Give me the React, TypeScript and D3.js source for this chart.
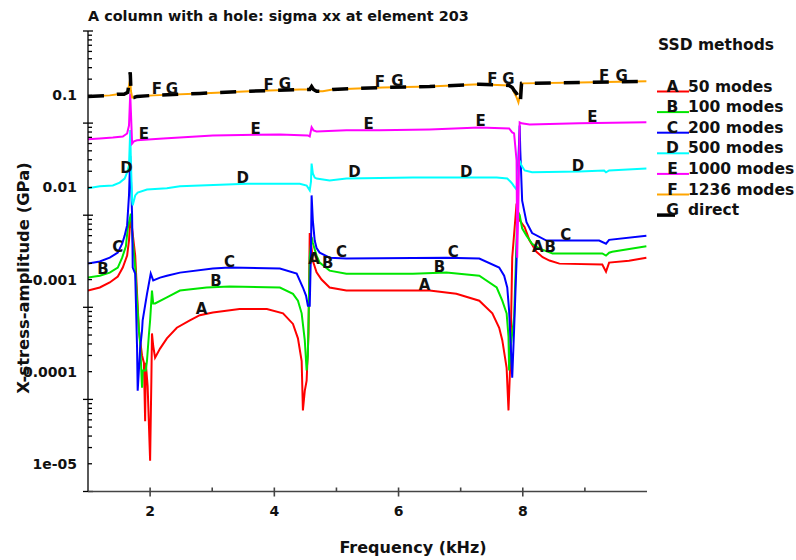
import React from 'react';
import * as d3 from 'd3';

type Pt = [number, number];

// frequency (kHz), X-stress amplitude (GPa)
const modes50: Pt[] = [
  [1.0, 7.6e-4], [1.19, 8.2e-4], [1.35, 9.3e-4], [1.48, 1.08e-3], [1.56, 1.35e-3], [1.63, 1.82e-3],
  [1.66, 2.65e-3], [1.68, 4.4e-3], [1.71, 3.6e-3], [1.76, 1.82e-3], [1.79, 7.0e-4], [1.82, 2.8e-4],
  [1.87, 1.5e-4], [1.9, 1.25e-4], [1.92, 2.9e-5], [1.93, 1.25e-4], [1.96, 7.0e-5], [2.0, 1.08e-5],
  [2.02, 8.0e-5], [2.03, 2.6e-4], [2.05, 1.9e-4], [2.08, 1.42e-4], [2.16, 1.78e-4], [2.27, 2.3e-4],
  [2.43, 3.0e-4], [2.64, 3.6e-4], [2.8, 4.1e-4], [3.01, 4.4e-4], [3.44, 4.8e-4], [3.88, 4.8e-4],
  [4.14, 4.3e-4], [4.3, 3.3e-4], [4.38, 2.3e-4], [4.44, 1.3e-4], [4.46, 3.8e-5], [4.49, 6.2e-5],
  [4.52, 8.0e-5], [4.55, 2.6e-4], [4.57, 3.2e-3], [4.6, 2.2e-3], [4.62, 1.6e-3], [4.68, 1.2e-3],
  [4.76, 1.0e-3], [4.89, 8.2e-4], [5.16, 7.6e-4], [6.5, 7.6e-4], [6.93, 7.0e-4], [7.3, 5.9e-4],
  [7.51, 4.3e-4], [7.62, 3.0e-4], [7.67, 2.2e-4], [7.74, 1.1e-4], [7.77, 3.8e-5], [7.8, 1.3e-4],
  [7.83, 1.73e-3], [7.9, 6.7e-3], [7.95, 4.4e-3], [8.03, 3.7e-3], [8.11, 2.65e-3], [8.22, 2.0e-3],
  [8.32, 1.75e-3], [8.43, 1.61e-3], [8.59, 1.49e-3], [9.28, 1.46e-3], [9.34, 1.22e-3], [9.39, 1.53e-3],
  [9.71, 1.6e-3], [9.99, 1.73e-3],
];

const modes100: Pt[] = [
  [1.0, 1.05e-3], [1.19, 1.1e-3], [1.35, 1.19e-3], [1.48, 1.35e-3], [1.55, 1.73e-3], [1.61, 2.3e-3],
  [1.64, 3.6e-3], [1.69, 5.2e-3], [1.72, 2.65e-3], [1.76, 1.35e-3], [1.79, 5.9e-4], [1.82, 2.8e-4],
  [1.84, 2.0e-4], [1.87, 6.7e-5], [1.88, 1.03e-4], [1.93, 1.03e-4], [1.95, 1.32e-4], [1.98, 2.5e-4],
  [2.0, 3.6e-4], [2.03, 7.6e-4], [2.05, 5.5e-4], [2.08, 5.5e-4], [2.27, 6.4e-4], [2.48, 7.6e-4],
  [2.91, 8.2e-4], [3.28, 8.4e-4], [4.09, 8.2e-4], [4.3, 7.0e-4], [4.38, 5.9e-4], [4.44, 4.3e-4],
  [4.49, 2.2e-4], [4.52, 1.03e-4], [4.54, 1.5e-4], [4.57, 1.73e-3], [4.6, 2.9e-3], [4.62, 2.5e-3],
  [4.68, 1.82e-3], [4.73, 1.53e-3], [4.89, 1.25e-3], [5.16, 1.16e-3], [6.23, 1.16e-3], [6.77, 1.19e-3],
  [7.3, 1.1e-3], [7.58, 8.2e-4], [7.67, 5.9e-4], [7.74, 4.3e-4], [7.77, 2.4e-4], [7.78, 1.03e-4],
  [7.81, 2.0e-4], [7.86, 3.9e-4], [7.9, 2.65e-3], [7.91, 5.6e-3], [7.95, 5.0e-3], [7.99, 3.6e-3],
  [8.06, 3.0e-3], [8.15, 2.45e-3], [8.27, 2.17e-3], [8.48, 1.92e-3], [9.28, 1.92e-3], [9.34, 1.82e-3],
  [9.39, 1.96e-3], [9.44, 2.0e-3], [9.99, 2.3e-3],
];

const modes200: Pt[] = [
  [1.0, 1.49e-3], [1.19, 1.57e-3], [1.35, 1.73e-3], [1.48, 1.96e-3], [1.55, 2.45e-3], [1.59, 3.0e-3],
  [1.63, 3.9e-3], [1.66, 8.2e-3], [1.68, 2.2e-2], [1.71, 5.0e-3], [1.72, 1.35e-3], [1.76, 1.16e-3],
  [1.79, 1.8e-4], [1.8, 6.2e-5], [1.84, 1.8e-4], [1.87, 2.8e-4], [1.88, 3.6e-4], [1.95, 7.0e-4],
  [2.01, 1.16e-3], [2.05, 9.8e-4], [2.16, 1.05e-3], [2.27, 1.1e-3], [2.48, 1.19e-3], [3.01, 1.32e-3],
  [3.28, 1.35e-3], [4.09, 1.32e-3], [4.36, 1.16e-3], [4.46, 8.2e-4], [4.51, 6.7e-4], [4.54, 5.2e-4],
  [4.57, 5.2e-4], [4.59, 2.1e-3], [4.6, 8.2e-3], [4.62, 4.4e-3], [4.65, 2.65e-3], [4.68, 2.2e-3],
  [4.73, 1.96e-3], [4.89, 1.73e-3], [5.16, 1.69e-3], [6.77, 1.73e-3], [7.3, 1.69e-3], [7.62, 1.35e-3],
  [7.7, 1.1e-3], [7.75, 8.2e-4], [7.78, 4.6e-4], [7.81, 1.7e-4], [7.83, 8.6e-5], [7.86, 2.8e-4],
  [7.9, 1.61e-3], [7.93, 2.0e-2], [7.95, 4.7e-2], [7.96, 2.5e-2], [7.99, 7.2e-3], [8.06, 4.2e-3],
  [8.15, 3.2e-3], [8.38, 2.65e-3], [9.23, 2.65e-3], [9.34, 2.45e-3], [9.39, 2.7e-3], [9.99, 3.0e-3],
];

const modes500: Pt[] = [
  [1.0, 9.8e-3], [1.19, 1.03e-2], [1.4, 1.05e-2], [1.51, 1.13e-2], [1.59, 1.25e-2], [1.63, 1.46e-2],
  [1.66, 1.73e-2], [1.68, 4.2e-2], [1.69, 2.0e-2], [1.71, 7.2e-3], [1.72, 6.4e-3], [1.76, 8.2e-3],
  [1.8, 8.8e-3], [1.95, 9.5e-3], [2.27, 9.8e-3], [2.48, 1.03e-2], [3.56, 1.1e-2], [4.41, 1.1e-2],
  [4.52, 1.05e-2], [4.57, 9.3e-3], [4.59, 1.16e-2], [4.6, 1.82e-2], [4.62, 1.42e-2], [4.65, 1.28e-2],
  [4.68, 1.25e-2], [4.89, 1.19e-2], [5.16, 1.25e-2], [6.23, 1.28e-2], [7.58, 1.28e-2], [7.75, 1.25e-2],
  [7.8, 1.16e-2], [7.83, 1.1e-2], [7.86, 1.03e-2], [7.9, 9.5e-3], [7.91, 1.25e-2], [7.95, 1.96e-2],
  [7.98, 1.73e-2], [8.03, 1.53e-2], [8.15, 1.46e-2], [8.91, 1.49e-2], [9.31, 1.53e-2], [9.34, 1.46e-2],
  [9.39, 1.53e-2], [9.99, 1.61e-2],
];

const modes1000: Pt[] = [
  [1.0, 3.33e-2], [1.19, 3.41e-2], [1.4, 3.49e-2], [1.56, 3.58e-2], [1.63, 3.86e-2], [1.66, 4.7e-2],
  [1.68, 0.105], [1.69, 6.9e-2], [1.71, 3.0e-2], [1.74, 3.17e-2], [1.79, 3.25e-2], [2.21, 3.41e-2],
  [3.01, 3.67e-2], [4.09, 3.77e-2], [4.54, 3.67e-2], [4.57, 3.58e-2], [4.6, 4.5e-2], [4.63, 4.17e-2],
  [4.68, 4.06e-2], [5.16, 4.17e-2], [5.69, 4.17e-2], [6.5, 4.27e-2], [7.3, 4.49e-2], [7.78, 4.38e-2],
  [7.83, 3.96e-2], [7.86, 3.86e-2], [7.9, 1.97e-2], [7.91, 1.73e-3], [7.93, 7.2e-3], [7.95, 5.1e-2],
  [7.98, 4.97e-2], [8.11, 4.84e-2], [8.91, 4.97e-2], [9.99, 5.1e-2],
];

const modes1236: Pt[] = [
  [1.0, 9.75e-2], [1.35, 0.1], [1.48, 0.103], [1.58, 0.103], [1.64, 0.108], [1.66, 0.128],
  [1.68, 0.153], [1.69, 0.113], [1.71, 9.5e-2], [1.74, 9.5e-2], [1.79, 9.75e-2], [2.05, 0.1],
  [2.8, 0.105], [3.6, 0.111], [4.41, 0.116], [4.57, 0.116], [4.6, 0.125], [4.63, 0.116],
  [4.68, 0.111], [4.78, 0.111], [4.94, 0.116], [5.74, 0.122], [6.5, 0.125], [7.3, 0.132],
  [7.78, 0.128], [7.83, 0.122], [7.86, 0.108], [7.9, 9.5e-2], [7.93, 8.4e-2], [7.95, 9.75e-2],
  [7.97, 0.132], [7.99, 0.135], [8.91, 0.138], [9.99, 0.142],
];

const direct: Pt[] = [
  [1.0, 9.75e-2], [1.35, 0.1], [1.48, 0.103], [1.58, 0.103], [1.64, 0.108], [1.66, 0.135],
  [1.68, 0.178], [1.69, 0.119], [1.71, 9.5e-2], [1.74, 9.5e-2], [1.79, 9.75e-2], [2.05, 0.1],
  [2.8, 0.105], [3.6, 0.111], [4.41, 0.116], [4.57, 0.116], [4.6, 0.125], [4.63, 0.116],
  [4.68, 0.111], [4.78, 0.111], [4.94, 0.116], [5.74, 0.122], [6.5, 0.125], [7.3, 0.132],
  [7.78, 0.128], [7.83, 0.122], [7.86, 0.113], [7.9, 0.105], [7.93, 9.5e-2], [7.96, 8.2e-2],
  [7.98, 0.135], [8.91, 0.138], [9.99, 0.142],
];

const seriesLetters = ['A', 'B', 'C', 'D', 'E', 'F', 'G'];
const seriesNames = ['50 modes', '100 modes', '200 modes', '500 modes', '1000 modes', '1236 modes', 'direct'];
const seriesData = [modes50, modes100, modes200, modes500, modes1000, modes1236, direct];

// where the letter markers sit along each curve (kHz)
const labelFreqs = [
  [2.83, 4.64, 6.42, 8.24],
  [1.24, 3.06, 4.86, 6.66, 8.44],
  [1.48, 3.28, 5.08, 6.88, 8.69],
  [1.62, 3.49, 5.29, 7.09, 8.89],
  [1.9, 3.7, 5.52, 7.32, 9.12],
  [2.11, 3.91, 5.7, 7.51, 9.31],
  [2.35, 4.17, 5.98, 7.77, 9.59],
];

const xTickLabels = [2, 4, 6, 8];
const xTicks = [2, 3, 4, 5, 6, 7, 8, 9];
const yTickValues = [1e-5, 1e-4, 1e-3, 1e-2, 1e-1];
const yTickText = ['1e-05', '0.0001', '0.001', '0.01', '0.1'];
const yDecades = [5e-6, 5e-5, 5e-4, 5e-3, 5e-2];

const colors = ['#ff0000', '#00e600', '#0000ff', '#00ffff', '#ff00ff', '#ffa500', '#000000'];

const left = 88, right = 647, top = 31, bottom = 491.5;

const x = d3.scaleLinear().domain([1, 10]).range([left, right]);
const y = d3.scaleLog().domain([5e-6, 0.5]).range([bottom, top]);

const line = d3.line<Pt>().x(d => x(d[0])).y(d => y(d[1]));

const valueAt = (pts: Pt[], f: number) => {
  const i = d3.bisector((d: Pt) => d[0]).right(pts, f);
  if (i <= 0) return pts[0][1];
  if (i >= pts.length) return pts[pts.length - 1][1];
  const [f0, v0] = pts[i - 1];
  const [f1, v1] = pts[i];
  const t = (f - f0) / (f1 - f0);
  return Math.exp(Math.log(v0) + t * (Math.log(v1) - Math.log(v0)));
};

const App = () => {
  const majors = [...yDecades, 0.5];
  const minors = yDecades.flatMap(b => d3.range(2, 10).map(m => b * m));

  return (
    <svg width={796} height={560} style={{position: 'absolute', left: 0, top: 0, background: '#fff'}}
      fontFamily="'DejaVu Sans', sans-serif" fontWeight="bold">
      <defs>
        <clipPath id="plot">
          <rect x={left} y={top - 4} width={right - left} height={bottom - top + 4} />
        </clipPath>
      </defs>

      <text x={88} y={21} fontSize={14.4} fill="#111">A column with a hole: sigma xx at element 203</text>

      {/* curves */}
      <g clipPath="url(#plot)" fill="none">
        {seriesData.map((pts, i) => (
          <path key={i} d={line(pts) || ''} stroke={colors[i]}
            strokeWidth={i === 6 ? 3.5 : 2}
            strokeDasharray={i === 6 ? '16,13' : undefined} />
        ))}
      </g>

      {/* letters on curves */}
      <g fontSize={15} textAnchor="middle" fill="#111">
        {labelFreqs.map((fs, i) => fs.map((f, j) => (
          <text key={i + '-' + j} x={x(f)} y={y(valueAt(seriesData[i], f)) - 1}>{seriesLetters[i]}</text>
        )))}
      </g>

      {/* y axis */}
      <g stroke="#000" strokeWidth={1.3}>
        <line x1={left} x2={left} y1={top} y2={bottom} />
        {majors.map((v, i) => <line key={'M' + i} x1={left - 5} x2={left + 5} y1={y(v)} y2={y(v)} />)}
        {minors.map((v, i) => <line key={'m' + i} x1={left} x2={left + 4} y1={y(v)} y2={y(v)} />)}
      </g>
      <g fontSize={14} textAnchor="end" fill="#111">
        {yTickValues.map((v, i) => (
          <text key={i} x={77} y={y(v) + 5}>{yTickText[i]}</text>
        ))}
      </g>

      {/* x axis */}
      <g stroke="#444" strokeWidth={1.6}>
        <line x1={left} x2={right} y1={bottom} y2={bottom} />
        {xTicks.map(v => (
          <line key={v} x1={x(v)} x2={x(v)} y1={bottom - 4}
            y2={xTickLabels.includes(v) ? bottom + 5 : bottom} />
        ))}
      </g>
      <g fontSize={14} textAnchor="middle" fill="#111">
        {xTickLabels.map(v => <text key={v} x={x(v)} y={516}>{v}</text>)}
      </g>

      <text x={413} y={553} fontSize={16} textAnchor="middle" fill="#111">Frequency (kHz)</text>
      <text transform="translate(29,278) rotate(-90)" fontSize={16.4} textAnchor="middle" fill="#111">
        X-stress-amplitude (GPa)
      </text>

      {/* legend */}
      <text x={658} y={50} fontSize={15.5} fill="#111">SSD methods</text>
      {seriesNames.map((name, i) => {
        const ly = 91.5 + i * 20.6;
        return (
          <g key={name}>
            <line x1={657} x2={i === 6 ? 675 : 689} y1={ly} y2={ly} stroke={colors[i]} strokeWidth={i === 6 ? 3.5 : 2} />
            <text x={672.5} y={ly} fontSize={15.5} textAnchor="middle" fill="#111">{seriesLetters[i]}</text>
            <text x={688} y={ly} fontSize={15.5} fill="#111">{name}</text>
          </g>
        );
      })}
    </svg>
  );
};

export default App;
